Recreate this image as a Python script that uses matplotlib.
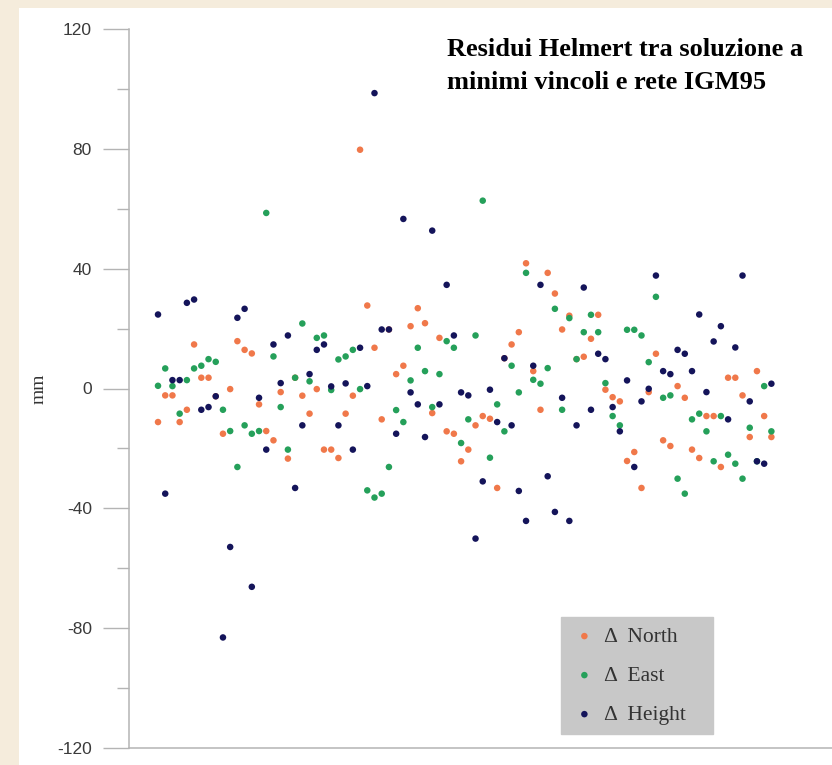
import matplotlib
matplotlib.use("Agg")
import matplotlib.pyplot as plt
from matplotlib.patches import Rectangle
from matplotlib.ticker import MultipleLocator

plt.rcParams["axes.unicode_minus"] = False

# residui Helmert (mm) per stazione, soluzione a minimi vincoli vs rete IGM95
north = [-11.2, -2.3, -2.3, -11.2, -7.1, 14.7, 3.6, 3.6, -2.6, -15.1,
         -0.2, 15.8, 12.9, 11.7, -5.3, -14.2, -17.3, -1.2, -23.4, 3.6,
         -2.4, -8.4, -0.2, -20.4, -20.4, -23.2, -8.4, -2.4, 79.7, 27.7,
         13.6, -10.3, 19.7, 4.8, 7.6, 20.8, 26.8, 21.8, -8.2, 16.9,
         -14.3, -15.1, -24.3, -20.4, -12.3, -9.2, -10.1, -33.2, 10.1, 14.7,
         18.8, 41.8, 5.8, -7.1, 38.6, 31.7, 19.7, 24.3, 9.8, 10.6,
         16.6, 24.6, -0.4, -2.9, -4.3, -24.2, -21.2, -33.2, -1.2, 11.6,
         -17.3, -19.2, 0.8, -3.1, -20.4, -23.2, -9.2, -9.2, -26.2, 3.6,
         3.6, -2.3, -16.2, 5.8, -9.2, -16.2]
east = [0.9, 6.7, 0.8, -8.4, 2.8, 6.7, 7.6, 9.8, 8.9, -7.1,
        -14.2, -26.2, -12.3, -15.1, -14.2, 58.6, 10.7, -6.2, -20.4, 3.6,
        21.7, 2.4, 16.9, 17.7, -0.5, 9.7, 10.7, 12.9, -0.2, -34.0,
        -36.4, -35.1, -26.2, -7.2, -11.2, 2.7, 13.6, 5.8, -6.2, 4.8,
        15.8, 13.6, -18.2, -10.3, 17.7, 62.7, -23.1, -5.3, -14.3, 7.6,
        -1.3, 38.6, 2.9, 1.6, 6.8, 26.6, -7.1, 23.5, 9.8, 18.8,
        24.6, 18.8, 1.8, -9.2, -12.3, 19.6, 19.6, 17.7, 8.8, 30.6,
        -3.1, -2.3, -30.1, -35.1, -10.3, -8.4, -14.3, -24.3, -9.2, -22.1,
        -25.1, -30.1, -13.1, -24.3, 0.8, -14.3]
height = [24.7, -35.1, 2.8, 2.8, 28.6, 29.7, -7.1, -6.2, -2.6, -83.1,
          -52.9, 23.6, 26.6, -66.2, -3.1, -20.4, 14.7, 1.8, 17.7, -33.2,
          -12.3, 4.8, 12.9, 14.7, 0.7, -12.3, 1.7, -20.4, 13.6, 0.8,
          98.6, 19.7, 19.7, -15.1, 56.6, -1.3, -5.3, -16.2, 52.7, -5.3,
          34.6, 17.7, -1.3, -2.3, -50.1, -31.0, -0.4, -11.2, 10.1, -12.3,
          -34.2, -44.2, 7.6, 34.6, -29.3, -41.2, -3.1, -44.2, -12.3, 33.7,
          -7.1, 11.6, 9.8, -6.2, -14.3, 2.7, -26.2, -4.3, -0.1, 37.7,
          5.8, 4.8, 12.9, 11.6, 5.8, 24.7, -1.2, 15.7, 20.8, -10.3,
          13.7, 37.7, -4.3, -24.3, -25.1, 1.6]
stations = list(range(1, len(north) + 1))

labels = ["\u0394  North", "\u0394  East", "\u0394  Height"]
colors = ["#f0784a", "#25a05a", "#14145a"]
title = "Residui Helmert tra soluzione a\nminimi vincoli e rete IGM95"

W, H = 832, 765
fig = plt.figure(figsize=(W / 100, H / 100), dpi=100, facecolor="#f5ecdc")
fig.patches.append(Rectangle((19 / W, 0), 1, 1 - 8 / H, transform=fig.transFigure,
                             facecolor="white", edgecolor="none", zorder=-5))

ax = fig.add_axes([129 / W, 17 / H, 1 - 129 / W, 719 / H])
ax.set_facecolor("none")

for vals, lab, col in zip([north, east, height], labels, colors):
    ax.scatter(stations, vals, s=22, color=col, edgecolors="none", label=lab, zorder=3)

ax.set_xlim(-3.02, 94.4)
ax.set_ylim(-120, 120)
ax.set_xticks([])
ax.yaxis.set_major_locator(MultipleLocator(40))
ax.yaxis.set_minor_locator(MultipleLocator(20))
ax.tick_params(axis="y", which="major", length=18.7, width=1.0, color="#b4b4b4",
               pad=8, labelsize=12.5, labelcolor="#3a3a3a")
ax.tick_params(axis="y", which="minor", length=8.6, width=1.0, color="#b4b4b4")
for t in ax.get_yticklabels():
    t.set_family("Liberation Sans")

for s in ["top", "right"]:
    ax.spines[s].set_visible(False)
for s in ["left", "bottom"]:
    ax.spines[s].set_color("#b4b4b4")
    ax.spines[s].set_linewidth(1.1)

ax.set_ylabel("mm", family="Liberation Serif", fontsize=14, color="#333333")
ax.yaxis.set_label_coords(-0.116, 0.5)

fig.text(447 / W, 1 - 38 / H, title, ha="left", va="top", fontsize=19,
         fontweight="bold", family="Liberation Serif", linespacing=1.55)

leg = ax.legend(loc="upper left", bbox_to_anchor=(560.7 / W, 29 / H, 152 / W, 119 / H),
                bbox_transform=fig.transFigure, mode="expand", frameon=True,
                fancybox=False, framealpha=1, facecolor="#c8c8c8", edgecolor="#c8c8c8",
                prop={"family": "Liberation Serif", "size": 15.5}, labelcolor="#333333",
                borderpad=0.45, labelspacing=0.88, handlelength=1.3, handletextpad=0.25,
                borderaxespad=0, scatterpoints=1)

fig.savefig("out.png", dpi=100, facecolor=fig.get_facecolor())
